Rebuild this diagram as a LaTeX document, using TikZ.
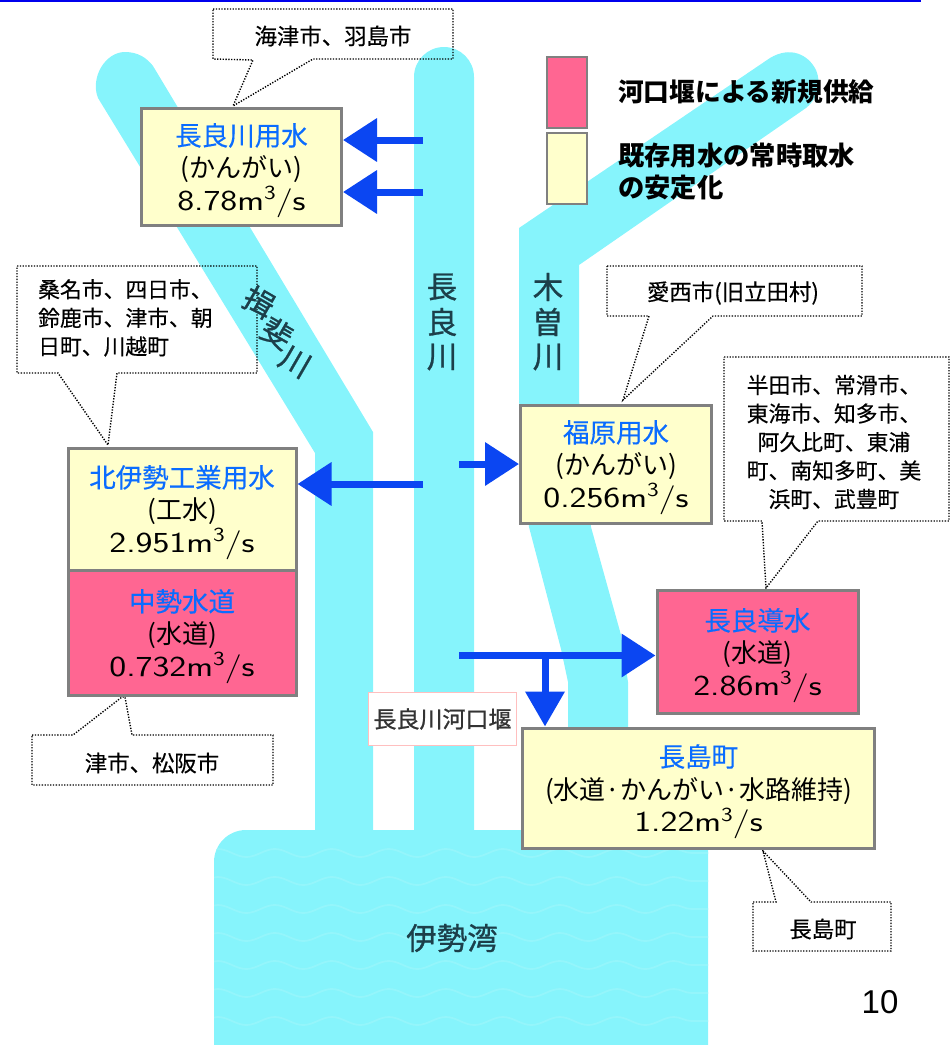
\documentclass[tikz,border=0pt]{standalone}
\usepackage{fontspec}
\setmainfont{Noto Sans CJK JP}
\newfontfamily\numfont[FakeStretch=1.24]{Latin Modern Sans}
\newfontfamily\pagefont{Liberation Sans}
\newfontfamily\heavyfont[FakeBold=0.9]{Noto Sans CJK JP}
\newfontfamily\midfont[FakeBold=0.3]{Noto Sans CJK JP}
\usetikzlibrary{arrows.meta,decorations.pathmorphing}
\definecolor{river}{HTML}{86F4FC}
\definecolor{wave}{HTML}{94F5FB}
\definecolor{pinkbox}{HTML}{FF6692}
\definecolor{creambox}{HTML}{FFFFCC}
\definecolor{framegray}{HTML}{808080}
\definecolor{titleblue}{HTML}{0A6CFF}
\definecolor{flowblue}{HTML}{0B46F2}
\definecolor{rivertext}{HTML}{1C3F4A}
\newcommand{\flowrate}[1]{{\fontsize{29}{32.5}\selectfont\numfont #1m\raisebox{0.36em}{\fontsize{20}{20}\selectfont 3}\smash{/}s}}
\newcommand{\boxtitle}[1]{\textcolor{titleblue}{\fontsize{26.5}{32.5}\selectfont\midfont #1}}
\tikzset{
  riverbody/.style={fill=river,draw=none},
  wavyline/.style={draw=wave,line width=1.8pt,decorate,decoration={snake,amplitude=4pt,segment length=57pt}},
  waterbox/.style={rectangle,draw=framegray,line width=3pt,inner sep=0pt,align=center,font=\fontsize{26}{32.5}\selectfont},
  yellowbox/.style={waterbox,fill=creambox},
  redbox/.style={waterbox,fill=pinkbox},
  legendbox/.style={rectangle,draw=framegray,line width=2pt,inner sep=0pt,minimum width=40pt,minimum height=71pt},
  balloon/.style={draw=black,line width=1.4pt,dash pattern=on 1.3pt off 1.5pt},
  balloontext/.style={inner sep=0pt,align=center,font=\fontsize{22.4}{28.5}\selectfont\midfont},
  blocktext/.style={balloontext,font=\fontsize{21.8}{28.5}\selectfont\midfont},
  legendtext/.style={inner sep=0pt,align=left,anchor=west,font=\fontsize{25.7}{32}\selectfont\bfseries},
  rivername/.style={inner sep=0pt,text=rivertext,font=\fontsize{30.5}{30.5}\selectfont\heavyfont},
  flow/.style={draw=flowblue,line width=7pt,-{Triangle[length=34pt,width=42pt]}},
  weirbox/.style={rectangle,draw=red!25,fill=white,line width=1.5pt,inner sep=0pt,minimum width=148pt,minimum height=53pt,text=black!80,font=\fontsize{23}{23}\selectfont\heavyfont}
}
\begin{document}
\begin{tikzpicture}[x=1pt,y=-1pt]
\useasboundingbox (0,0) rectangle (952,1045);
\fill[blue!93!black] (0,0) rectangle (921,2);
% rivers
\fill[riverbody] (98,98)
  .. controls (90,78) and (105,52) .. (125,52) .. controls (138,52) and (147,58) .. (153,66)
  -- (373,432) -- (373,835) -- (315,835) -- (315,453) -- cycle;
\fill[riverbody] (414,835) -- (414,77) arc[start angle=180,end angle=0,radius=30pt] -- (474,835) -- cycle;
\fill[riverbody] (519,835) -- (568,835) -- (568,682) -- (561,649) -- (529,527) -- (519,400) -- (519,228)
  -- (770,58) .. controls (790,46) and (808,54) .. (816,70) .. controls (822,85) and (818,98) .. (806,108)
  -- (579,265) -- (579,400) -- (591,527) -- (621,635) -- (628,682) -- (628,835) -- cycle;
\fill[riverbody] (214,1045) -- (214,862) arc[start angle=180,end angle=90,radius=32pt] -- (708,830) -- (708,1045) -- cycle;
\begin{scope}
  \clip (214,1045) -- (214,862) arc[start angle=180,end angle=90,radius=32pt] -- (708,830) -- (708,1045) -- cycle;
  \foreach \yy in {853,881,909,937,965,993,1021} {
    \draw[wavyline] (200,\yy) -- (720,\yy);
  }
\end{scope}
% callouts
\node[balloontext] (c1) at (333,36) {海津市、羽島市};
\draw[balloon] (213,9) -- (453,9) -- (453,59) -- (313,59) -- (233,106) -- (253,60) -- (213,59) -- cycle;
\node[blocktext,align=left,anchor=north west] (c2) at (38,279) {桑名市、四日市、\\鈴鹿市、津市、朝\\日町、川越町};
\draw[balloon] (17,266) -- (257,266) -- (257,373) -- (117,373) -- (108,445) -- (58,373) -- (17,373) -- cycle;
\node[balloontext] (c3) at (152,763) {津市、松阪市};
\draw[balloon] (32,735) -- (73,735) -- (122,697) -- (125,697) -- (132,735) -- (273,735) -- (273,785) -- (32,785) -- cycle;
\node[balloontext] (c4) at (733,293) {愛西市(旧立田村)};
\draw[balloon] (607,266) -- (862,266) -- (862,316) -- (713,316) -- (623,400) -- (649,316) -- (607,316) -- cycle;
\node[blocktext] (c5) at (834,442) {半田市、常滑市、\\東海市、知多市、\\阿久比町、東浦\\町、南知多町、美\\浜町、武豊町};
\draw[balloon] (724,357) -- (949,357) -- (949,521) -- (818,521) -- (766,588) -- (762,521) -- (724,521) -- cycle;
\node[balloontext] (c6) at (823,929) {長島町};
\draw[balloon] (753,902) -- (776,902) -- (763,851) -- (811,902) -- (891,902) -- (891,951) -- (753,951) -- cycle;
% river names
\node[rivername] (n1) at (442,287) {長};
\node[rivername] (n2) at (442,322) {良};
\node[rivername] (n3) at (442,357) {川};
\node[rivername] (k1) at (548,287) {木};
\node[rivername] (k2) at (548,322) {曽};
\node[rivername] (k3) at (548,357) {川};
\node[rivername,rotate=-30] (i1) at (259,302) {揖};
\node[rivername,rotate=-30] (i2) at (277,333) {斐};
\node[rivername,rotate=-30] (i3) at (295,362) {川};
\node[rivername] (bay) at (452,938) {伊勢湾};
% weir
\node[weirbox] (weir) at (442.5,719) {長良川河口堰};
% water boxes
\node[yellowbox,minimum width=200pt,minimum height=117pt] (b1) at (241.5,167) {\boxtitle{長良川用水}\\(かんがい)\\\flowrate{8.78}};
\node[yellowbox,minimum width=228pt,minimum height=122pt] (b2) at (182,509) {\boxtitle{北伊勢工業用水}\\(工水)\\\flowrate{2.951}};
\node[redbox,minimum width=228pt,minimum height=125pt] (b3) at (182,633) {\boxtitle{中勢水道}\\(水道)\\\flowrate{0.732}};
\node[yellowbox,minimum width=191pt,minimum height=118pt] (b4) at (616,464) {\boxtitle{福原用水}\\(かんがい)\\\flowrate{0.256}};
\node[redbox,minimum width=201pt,minimum height=123pt] (b5) at (757.5,652) {\boxtitle{長良導水}\\(水道)\\\flowrate{2.86}};
\node[yellowbox,minimum width=352pt,minimum height=120pt] (b6) at (698.5,788) {\boxtitle{長島町}\\(水道·かんがい·水路維持)\\\flowrate{1.22}};
% flows
\coordinate (t1) at (423,140);
\coordinate (t2) at (423,192);
\coordinate (t3) at (423,484);
\coordinate (t4) at (459,464);
\coordinate (t5) at (459,655.5);
\coordinate (t6) at (545,655.5);
\draw[flow] (t1) -- (t1 -| b1.east);
\draw[flow] (t2) -- (t2 -| b1.east);
\draw[flow] (t3) -- (t3 -| b2.east);
\draw[flow] (t4) -- (t4 -| b4.west);
\draw[flow] (t5) -- (t5 -| b5.west);
\draw[flow,-{Triangle[length=35pt,width=38pt]}] (t6) -- (t6 |- b6.north);
% legend
\node[legendbox,fill=pinkbox] (l1) at (567,92.5) {};
\node[legendbox,fill=creambox] (l2) at (567,168) {};
\node[legendtext] (lt1) at (618,92) {河口堰による新規供給};
\node[legendtext,font=\fontsize{26.3}{32}\selectfont\bfseries] (lt2) at (618,172) {既存用水の常時取水\\の安定化};
% page number
\node[inner sep=0pt,font=\fontsize{33}{33}\selectfont\pagefont] (page) at (880,1002) {10};
\end{tikzpicture}
\end{document}
